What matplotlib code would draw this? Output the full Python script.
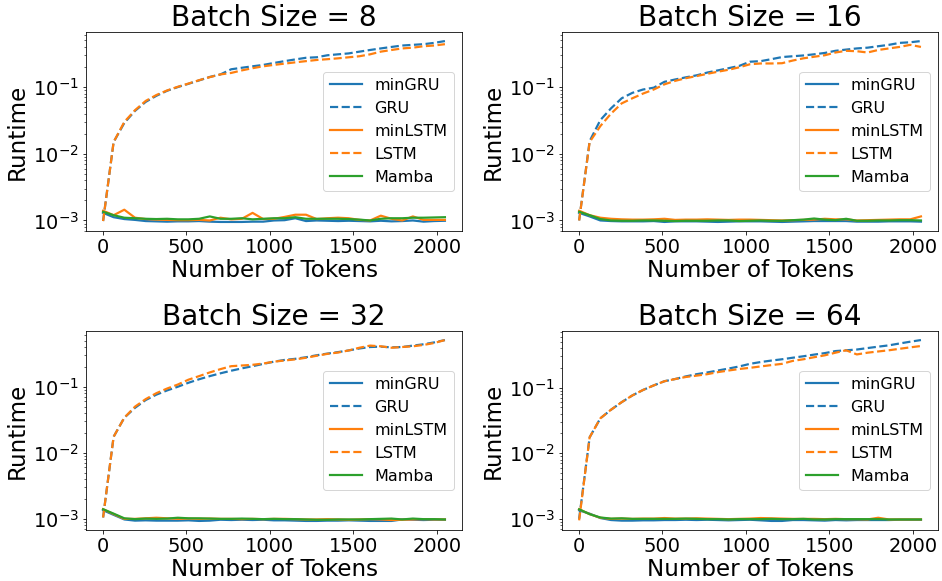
import matplotlib
matplotlib.use("Agg")
import matplotlib.pyplot as plt

# sequence lengths (number of tokens)
tokens = [1, 64, 128, 192, 256, 320, 384, 448, 512, 576, 640, 704, 768, 832, 896, 960,
          1024, 1088, 1152, 1216, 1280, 1344, 1408, 1472, 1536, 1600, 1664, 1728, 1792,
          1856, 1920, 1984, 2048]

batch_sizes = [8, 16, 32, 64]

# ---- batch size 8 ----
gru_8 = [0.00098, 0.015, 0.029, 0.044, 0.060, 0.074, 0.088, 0.100, 0.112, 0.126, 0.142,
         0.155, 0.185, 0.195, 0.205, 0.215, 0.230, 0.245, 0.260, 0.275, 0.280, 0.300,
         0.310, 0.320, 0.340, 0.360, 0.380, 0.400, 0.420, 0.430, 0.440, 0.460, 0.490]
lstm_8 = [0.00098, 0.015, 0.030, 0.045, 0.062, 0.076, 0.089, 0.101, 0.113, 0.127, 0.141,
          0.155, 0.163, 0.178, 0.192, 0.205, 0.215, 0.225, 0.235, 0.245, 0.255, 0.262,
          0.270, 0.280, 0.290, 0.310, 0.340, 0.360, 0.380, 0.390, 0.410, 0.420, 0.440]
mingru_8 = [0.00130, 0.00112, 0.00105, 0.00102, 0.00098, 0.00097, 0.00096, 0.00097,
            0.00097, 0.00098, 0.00096, 0.00095, 0.00095, 0.00095, 0.00096, 0.00096,
            0.00100, 0.00101, 0.00108, 0.00098, 0.00100, 0.00099, 0.00098, 0.00099,
            0.00098, 0.00097, 0.00099, 0.00097, 0.00098, 0.00100, 0.00096, 0.00098, 0.00099]
minlstm_8 = [0.00140, 0.00120, 0.00145, 0.00110, 0.00105, 0.00103, 0.00102, 0.00101,
             0.00101, 0.00102, 0.00100, 0.00110, 0.00104, 0.00106, 0.00130, 0.00105,
             0.00106, 0.00113, 0.00122, 0.00122, 0.00105, 0.00108, 0.00110, 0.00108,
             0.00102, 0.00100, 0.00118, 0.00106, 0.00100, 0.00115, 0.00102, 0.00102, 0.00102]
mamba_8 = [0.00135, 0.00120, 0.00110, 0.00108, 0.00106, 0.00105, 0.00106, 0.00104,
           0.00104, 0.00106, 0.00115, 0.00106, 0.00106, 0.00108, 0.00104, 0.00106,
           0.00108, 0.00108, 0.00112, 0.00106, 0.00106, 0.00106, 0.00106, 0.00105,
           0.00103, 0.00100, 0.00106, 0.00108, 0.00108, 0.00110, 0.00110, 0.00111, 0.00112]

# ---- batch size 16 ----
gru_16 = [0.00100, 0.0155, 0.032, 0.048, 0.068, 0.082, 0.092, 0.098, 0.120, 0.130, 0.140,
          0.150, 0.165, 0.178, 0.192, 0.208, 0.240, 0.245, 0.262, 0.282, 0.290, 0.298,
          0.310, 0.325, 0.350, 0.365, 0.380, 0.390, 0.410, 0.430, 0.460, 0.470, 0.490]
lstm_16 = [0.00100, 0.0150, 0.026, 0.040, 0.057, 0.068, 0.080, 0.092, 0.110, 0.124, 0.136,
           0.146, 0.158, 0.170, 0.182, 0.198, 0.220, 0.226, 0.226, 0.228, 0.250, 0.270,
           0.285, 0.300, 0.330, 0.350, 0.345, 0.330, 0.360, 0.380, 0.400, 0.430, 0.400]
mingru_16 = [0.00130, 0.00115, 0.00100, 0.00098, 0.00097, 0.00097, 0.00097, 0.00098,
             0.00095, 0.00097, 0.00097, 0.00097, 0.00096, 0.00095, 0.00096, 0.00097,
             0.00097, 0.00097, 0.00096, 0.00095, 0.00096, 0.00097, 0.00098, 0.00098,
             0.00098, 0.00098, 0.00096, 0.00096, 0.00096, 0.00097, 0.00097, 0.00097, 0.00096]
minlstm_16 = [0.00140, 0.00120, 0.00110, 0.00106, 0.00104, 0.00103, 0.00103, 0.00104,
              0.00106, 0.00102, 0.00103, 0.00103, 0.00104, 0.00103, 0.00102, 0.00103,
              0.00103, 0.00102, 0.00101, 0.00100, 0.00101, 0.00102, 0.00103, 0.00106,
              0.00104, 0.00104, 0.00100, 0.00101, 0.00102, 0.00103, 0.00104, 0.00104, 0.00115]
mamba_16 = [0.00135, 0.00120, 0.00105, 0.00100, 0.00099, 0.00099, 0.00100, 0.00100,
            0.00099, 0.00098, 0.00099, 0.00099, 0.00099, 0.00100, 0.00100, 0.00098,
            0.00099, 0.00100, 0.00099, 0.00099, 0.00101, 0.00103, 0.00107, 0.00103,
            0.00101, 0.00106, 0.00099, 0.00099, 0.00100, 0.00100, 0.00101, 0.00101, 0.00100]

# ---- batch size 32 ----
gru_32 = [0.00105, 0.0175, 0.034, 0.048, 0.063, 0.076, 0.088, 0.100, 0.115, 0.130, 0.145,
          0.160, 0.175, 0.190, 0.205, 0.222, 0.240, 0.255, 0.265, 0.280, 0.300, 0.318,
          0.335, 0.355, 0.380, 0.400, 0.405, 0.395, 0.400, 0.420, 0.440, 0.470, 0.510]
lstm_32 = [0.00105, 0.0175, 0.034, 0.050, 0.065, 0.080, 0.094, 0.108, 0.128, 0.145, 0.165,
           0.185, 0.205, 0.210, 0.215, 0.225, 0.240, 0.250, 0.260, 0.275, 0.295, 0.315,
           0.330, 0.355, 0.390, 0.420, 0.410, 0.390, 0.400, 0.410, 0.430, 0.460, 0.510]
mingru_32 = [0.00135, 0.00115, 0.00098, 0.00094, 0.00095, 0.00094, 0.00094, 0.00094,
             0.00095, 0.00093, 0.00094, 0.00097, 0.00096, 0.00097, 0.00096, 0.00097,
             0.00095, 0.00095, 0.00094, 0.00093, 0.00093, 0.00094, 0.00094, 0.00095,
             0.00094, 0.00093, 0.00093, 0.00093, 0.00098, 0.00097, 0.00096, 0.00097, 0.00097]
minlstm_32 = [0.00140, 0.00118, 0.00100, 0.00100, 0.00102, 0.00104, 0.00102, 0.00100,
              0.00101, 0.00100, 0.00101, 0.00100, 0.00100, 0.00099, 0.00100, 0.00099,
              0.00100, 0.00100, 0.00099, 0.00098, 0.00098, 0.00099, 0.00098, 0.00097,
              0.00098, 0.00099, 0.00098, 0.00096, 0.00097, 0.00098, 0.00099, 0.00098, 0.00098]
mamba_32 = [0.00140, 0.00120, 0.00102, 0.00099, 0.00101, 0.00100, 0.00101, 0.00104,
            0.00102, 0.00102, 0.00101, 0.00100, 0.00100, 0.00101, 0.00100, 0.00099,
            0.00100, 0.00099, 0.00099, 0.00098, 0.00097, 0.00097, 0.00098, 0.00098,
            0.00098, 0.00099, 0.00100, 0.00101, 0.00098, 0.00101, 0.00099, 0.00099, 0.00098]

# ---- batch size 64 ----
gru_64 = [0.00100, 0.0175, 0.034, 0.046, 0.060, 0.076, 0.092, 0.108, 0.125, 0.135, 0.148,
          0.160, 0.170, 0.182, 0.195, 0.210, 0.230, 0.245, 0.258, 0.270, 0.285, 0.300,
          0.318, 0.335, 0.360, 0.370, 0.380, 0.400, 0.420, 0.440, 0.470, 0.500, 0.530]
lstm_64 = [0.00095, 0.0175, 0.034, 0.046, 0.060, 0.076, 0.092, 0.108, 0.125, 0.135, 0.145,
           0.152, 0.160, 0.172, 0.182, 0.192, 0.200, 0.210, 0.220, 0.230, 0.255, 0.270,
           0.290, 0.310, 0.340, 0.370, 0.320, 0.340, 0.355, 0.370, 0.390, 0.410, 0.430]
mingru_64 = [0.00135, 0.00120, 0.00103, 0.00096, 0.00094, 0.00094, 0.00095, 0.00095,
             0.00096, 0.00096, 0.00097, 0.00096, 0.00097, 0.00096, 0.00095, 0.00096,
             0.00097, 0.00095, 0.00093, 0.00093, 0.00096, 0.00096, 0.00095, 0.00094,
             0.00096, 0.00095, 0.00096, 0.00096, 0.00096, 0.00096, 0.00097, 0.00097, 0.00097]
minlstm_64 = [0.00140, 0.00118, 0.00104, 0.00100, 0.00101, 0.00100, 0.00101, 0.00101,
              0.00103, 0.00101, 0.00101, 0.00102, 0.00101, 0.00100, 0.00099, 0.00100,
              0.00101, 0.00103, 0.00102, 0.00101, 0.00100, 0.00100, 0.00100, 0.00099,
              0.00100, 0.00099, 0.00099, 0.00098, 0.00104, 0.00098, 0.00098, 0.00098, 0.00098]
mamba_64 = [0.00140, 0.00118, 0.00105, 0.00101, 0.00102, 0.00100, 0.00100, 0.00100,
            0.00100, 0.00100, 0.00101, 0.00100, 0.00099, 0.00099, 0.00098, 0.00099,
            0.00099, 0.00099, 0.00100, 0.00099, 0.00099, 0.00100, 0.00098, 0.00098,
            0.00099, 0.00099, 0.00099, 0.00099, 0.00099, 0.00098, 0.00098, 0.00098, 0.00098]

runs = {
    8: (mingru_8, gru_8, minlstm_8, lstm_8, mamba_8),
    16: (mingru_16, gru_16, minlstm_16, lstm_16, mamba_16),
    32: (mingru_32, gru_32, minlstm_32, lstm_32, mamba_32),
    64: (mingru_64, gru_64, minlstm_64, lstm_64, mamba_64),
}

labels = ["minGRU", "GRU", "minLSTM", "LSTM", "Mamba"]
colors = ["tab:blue", "tab:blue", "tab:orange", "tab:orange", "tab:green"]
styles = ["-", "--", "-", "--", "-"]

# rendered at 72 dpi, so 1 pt == 1 px
fig, axes = plt.subplots(2, 2, figsize=(942 / 72, 581 / 72), dpi=72)
fig.subplots_adjust(left=0.0913, right=0.9958, top=0.9449, bottom=0.0878,
                    wspace=0.266, hspace=0.5025)

for ax, bs in zip(axes.flat, batch_sizes):
    for y, lab, c, ls in zip(runs[bs], labels, colors, styles):
        ax.plot(tokens, y, ls, color=c, label=lab, linewidth=2.2)
    ax.set_yscale("log")
    ax.set_title(f"Batch Size = {bs}", fontsize=28)
    ax.set_xlabel("Number of Tokens", fontsize=23, labelpad=2)
    ax.set_ylabel("Runtime", fontsize=23)
    ax.tick_params(axis="both", which="major", labelsize=19.5)
    ax.legend(loc="center right", fontsize=16)

fig.savefig("out.png", dpi=72)
